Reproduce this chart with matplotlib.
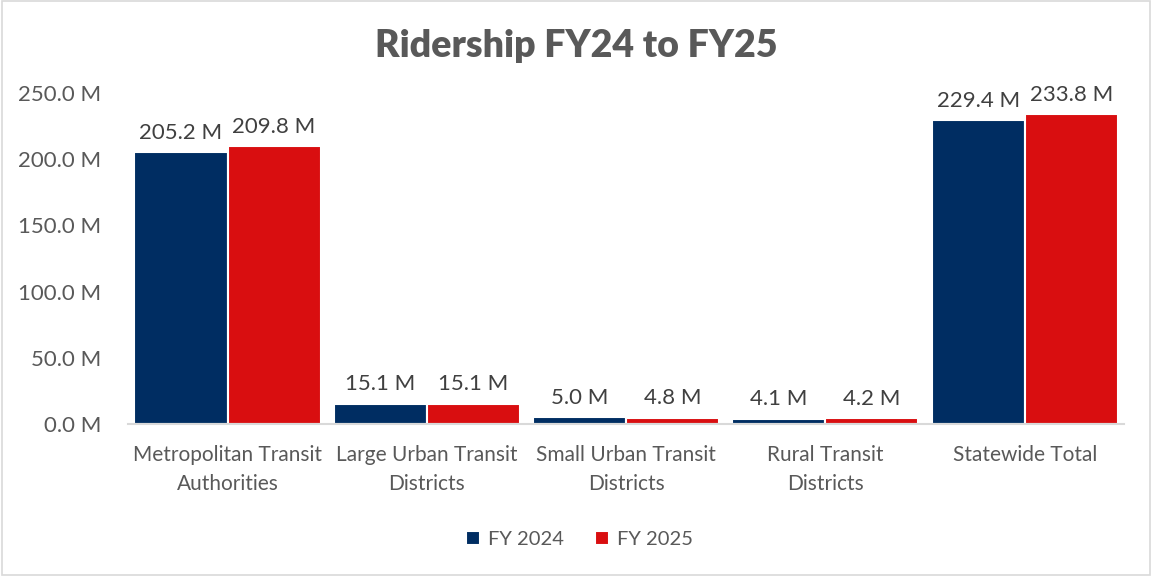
import matplotlib.pyplot as plt
import numpy as np
from matplotlib.patches import Rectangle

# Ridership data (millions)
categories = ["Metropolitan Transit\nAuthorities", "Large Urban Transit\nDistricts",
              "Small Urban Transit\nDistricts", "Rural Transit\nDistricts", "Statewide Total"]
fy2024 = [205.2, 15.1, 5.0, 4.1, 229.4]
fy2025 = [209.8, 15.1, 4.8, 4.2, 233.8]
series_names = ["FY 2024", "FY 2025"]
y_ticks = [0, 50, 100, 150, 200, 250]

NAVY = "#002D62"
RED = "#D90E10"

plt.rcParams['font.family'] = ['Lato', 'DejaVu Sans']

fig = plt.figure(figsize=(11.52, 5.76), dpi=100)
ax = fig.add_axes([0.111, 0.264, 0.865, 0.5745])

x = np.arange(len(categories))
w = 0.467
b1 = ax.bar(x - w / 2, fy2024, w, color=NAVY, edgecolor="white", linewidth=1.5, label=series_names[0])
b2 = ax.bar(x + w / 2, fy2025, w, color=RED, edgecolor="white", linewidth=1.5, label=series_names[1])

for bars, vals in [(b1, fy2024), (b2, fy2025)]:
    for rect, v in zip(bars, vals):
        ax.annotate(f"{v:.1f} M", (rect.get_x() + rect.get_width() / 2, rect.get_height()),
                    xytext=(0, 7), textcoords="offset points", ha="center", va="bottom",
                    fontsize=16, color="#404040")

ax.set_xlim(-0.5, len(categories) - 0.5)
ax.set_ylim(0, 250)
ax.set_yticks(y_ticks)
ax.set_yticklabels([f"{t:.1f} M" for t in y_ticks])
ax.set_xticks(x)
ax.set_xticklabels(categories, linespacing=1.55)
ax.tick_params(axis="y", length=0, labelsize=16, labelcolor="#595959", pad=19)
ax.tick_params(axis="x", length=0, labelsize=15, labelcolor="#595959", pad=15)
for s in ["top", "right", "left"]:
    ax.spines[s].set_visible(False)
ax.spines["bottom"].set_color("#d9d9d9")
ax.spines["bottom"].set_linewidth(1.5)

fig.suptitle("Ridership FY24 to FY25", x=0.5, y=0.95, fontsize=27, fontweight="heavy", color="#595959")

fig.legend(handles=[b1, b2], labels=series_names, loc="center", bbox_to_anchor=(0.503, 0.064),
           ncol=2, frameon=False, fontsize=14.5, labelcolor="#595959",
           handlelength=0.7, handleheight=0.7, handletextpad=0.4, columnspacing=1.5)

# light chart border
fig.patches.append(Rectangle((0.002, 0.002), 0.996, 0.996, transform=fig.transFigure,
                             fill=False, edgecolor="#d9d9d9", linewidth=1.2))

fig.savefig("out.png", dpi=100)
